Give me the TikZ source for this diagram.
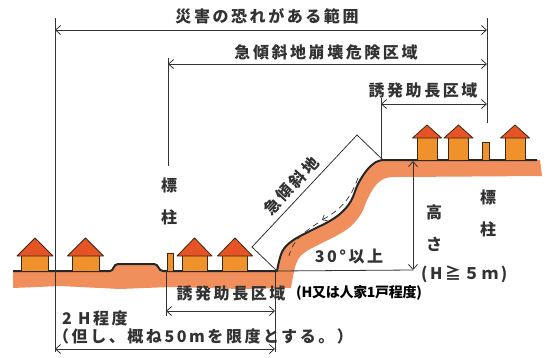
\documentclass[tikz,border=0pt]{standalone}
\usepackage{fontspec}
\newfontfamily\jp{Noto Sans CJK JP}[LetterSpace=16]
\newfontfamily\jpbold{Noto Sans CJK JP}[LetterSpace=-2]
\usetikzlibrary{arrows.meta}

\definecolor{soil}{RGB}{240,142,92}
\definecolor{roofred}{RGB}{230,84,38}
\definecolor{wallorange}{RGB}{240,146,44}
\definecolor{inkgray}{RGB}{50,50,50}

\tikzset{
	guide/.style={draw=inkgray, line width=0.8pt},
	dim/.style={guide, {Straight Barb[length=5pt,width=9pt]}-{Straight Barb[length=5pt,width=9pt]}},
	lbl/.style={font=\jp\bfseries\fontsize{16}{32}\selectfont, text=inkgray, inner sep=0pt, align=center},
	note/.style={font=\jpbold\bfseries\fontsize{14}{14}\selectfont, text=black, inner sep=0pt},
	ground/.style={draw=black!85, line width=2pt, line join=round},
	wall/.style={fill=wallorange, draw=black!70!brown, line width=0.8pt},
	roof/.style={fill=roofred, draw=black!70!brown, line width=0.8pt, line join=round}
}

\begin{document}
\begin{tikzpicture}[x=1pt,y=-1pt]
	\useasboundingbox (0,0) rectangle (547,357);
	
	% house: centre x, ground y, wall width, wall height, roof width, roof height
	\def\house#1#2#3#4#5#6{%
		\filldraw[wall] ({#1-#3/2},#2) rectangle ({#1+#3/2},{#2-#4});
		\filldraw[roof] ({#1-#5/2},{#2-#4+1}) -- (#1,{#2-#4-#6}) -- ({#1+#5/2},{#2-#4+1}) -- cycle;
	}
	
	\coordinate (slopeBase) at (277,271);
	\coordinate (slopeTop) at (383,160);
	
	% soil band
	\fill[soil] (13,272) -- (110,272) .. controls (114,272) and (113,264) .. (118,264) -- (154,264)
		.. controls (159,264) and (158,272) .. (163,272) -- (slopeBase)
		-- plot[smooth,tension=.6] coordinates {(277,271) (282,252) (292,241) (310,231) (328,222) (341,213) (351,201) (358,184) (367,170) (376,162) (383,160)}
		-- (540,160) -- (542,176)
		-- plot[smooth,tension=.6] coordinates {(400,177) (386,178) (376,185) (368,198) (361,214) (350,227) (336,236) (320,244) (304,253) (296,264) (291,288)}
		-- (240,289) -- (170,287) -- (120,289) -- (60,286) -- (13,288) -- cycle;
	
	% ground surface
	\draw[ground] (13,271) -- (110,271) .. controls (114,271) and (113,264) .. (118,264) -- (154,264)
		.. controls (159,264) and (158,271) .. (163,271) -- (slopeBase)
		-- plot[smooth,tension=.6] coordinates {(277,271) (282,252) (292,241) (310,231) (328,222) (341,213) (351,201) (358,184) (367,170) (376,162) (383,160)}
		-- (537,160);
	
	% houses and posts
	\house{35}{271}{27}{16}{36}{17}
	\house{85.5}{271}{27}{16}{36}{17}
	\house{194.5}{271}{25}{16}{35}{17}
	\house{235}{271}{25}{16}{35}{17}
	\house{427}{160}{20}{23}{29}{12}
	\house{458.5}{160}{20}{23}{29}{12}
	\house{515}{160}{20}{23}{29}{12}
	\filldraw[wall] (167,253) rectangle (173,271);
	\filldraw[wall] (482,142) rectangle (489,160);
	
	% range lines
	\coordinate (edgeA) at (55,18);   \coordinate (edgeAbot) at (55,352);
	\coordinate (edgeB) at (168,58);  \coordinate (edgeBbot) at (168,166);
	\coordinate (edgeC) at (381,98);  \coordinate (edgeCbot) at (381,158);
	\coordinate (edgeR) at (487,18);  \coordinate (edgeRbot) at (487,123);
	\coordinate (edgeD) at (166,271); \coordinate (edgeDbot) at (166,316);
	\coordinate (edgeE) at (275,271); \coordinate (edgeEbot) at (275,352);
	\foreach \e in {A,B,C,R,D,E}
		\draw[guide] (edge\e) -- (edge\e bot);
	
	\coordinate (dangerL) at (55,30);   \coordinate (dangerR) at (487,30);
	\coordinate (steepL) at (168,64);   \coordinate (steepR) at (487,64);
	\coordinate (upperL) at (381,104);  \coordinate (upperR) at (487,104);
	\coordinate (lowerL) at (166,311);  \coordinate (lowerR) at (275,311);
	\coordinate (twoHL) at (55,349);    \coordinate (twoHR) at (275,349);
	\draw[dim] (dangerL) -- (dangerR);
	\draw[dim] (steepL) -- (steepR);
	\draw[dim] (upperL) -- (upperR);
	\draw[dim] (lowerL) -- (lowerR);
	\draw[dim] (twoHL) -- (twoHR);
	
	\node[lbl] (danger) at (267,16) {災害の恐れがある範囲};
	\node[lbl] (steep) at (326,52) {急傾斜地崩壊危険区域};
	\node[lbl] (upper) at (423,90) {誘発助長区域};
	\node[lbl] (lower) at (231,293) {誘発助長区域};
	\node[note,anchor=west] (lowerNote) at (296,293) {(H又は人家1戸程度)};
	\node[lbl,anchor=west] (twoH) at (62,318) {2 H程度};
	\node[lbl,anchor=west] (limit) at (53,336) {（但し、概ね50mを限度とする。）};
	
	% slope frame
	\coordinate (frameLow) at (252,247);
	\coordinate (frameHigh) at (357,135);
	\draw[guide] (slopeBase) -- (frameLow) -- (frameHigh) -- (slopeTop);
	\node[lbl,rotate=47] (steepSlope) at (291,186) {急傾斜地};
	
	% sliding direction
	\coordinate (slideA) at (358,178);
	\coordinate (slideB) at (322,220);
	\coordinate (slideC) at (318,223);
	\coordinate (slideD) at (289,256);
	\draw[guide, line width=0.7pt, dash pattern=on 6pt off 4pt, -{Straight Barb[length=4pt,width=7pt]}]
		(slideA) .. controls (350,200) and (340,210) .. (slideB);
	\draw[guide, line width=0.7pt, dash pattern=on 6pt off 4pt]
		(slideC) .. controls (302,233) and (292,242) .. (slideD);
	
	% height
	\coordinate (heightTop) at (413,161);
	\coordinate (heightBot) at (413,270);
	\draw[guide] (slopeBase) -- (heightBot);
	\draw[dim] (heightTop) -- (heightBot);
	\node[lbl] (angle) at (349,257) {30°以上};
	\node[lbl] (height) at (434,228) {高\\さ};
	\node[lbl,anchor=west] (heightVal) at (421,274) {(H≧５ｍ)};
	
	\node[lbl] (postL) at (169,201) {標\\柱};
	\node[lbl] (postR) at (488,213) {標\\柱};
\end{tikzpicture}
\end{document}
